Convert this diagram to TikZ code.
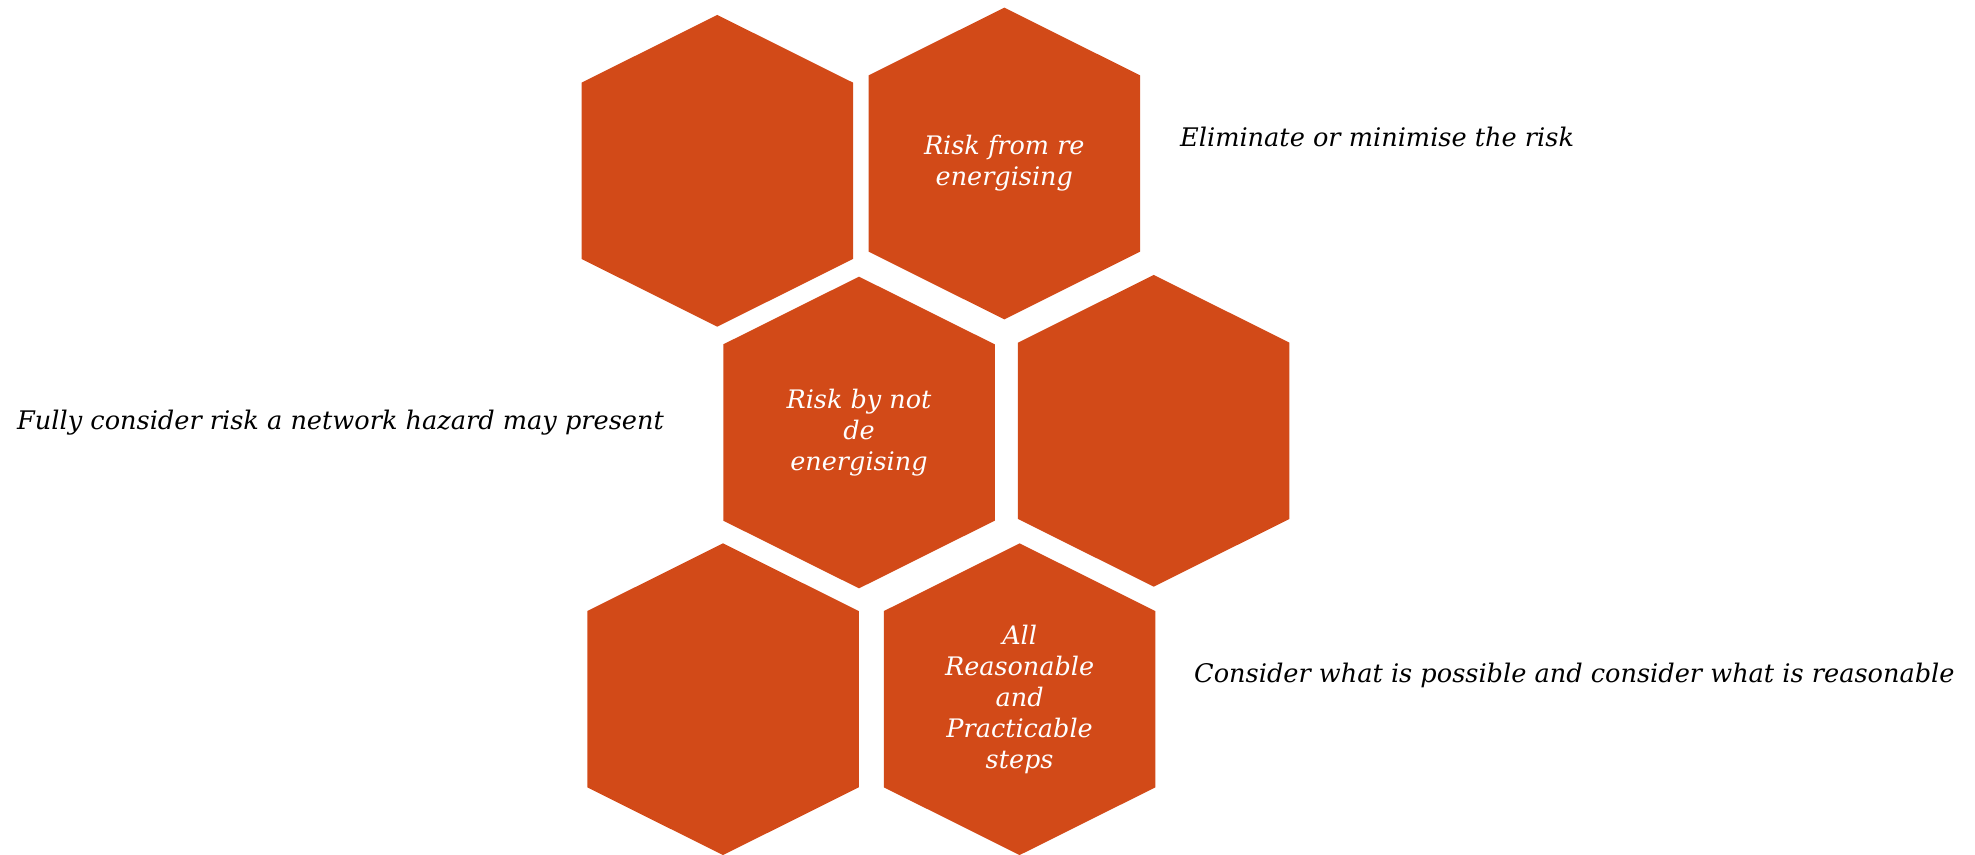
\documentclass[tikz,border=0pt]{standalone}
\usepackage{fontspec}
\setmainfont{DejaVu Serif}
\definecolor{hexcol}{RGB}{210,74,24}
\tikzset{
  hex/.pic={\fill[hexcol] (0,-155.85) -- (135.75,-88.15) -- (135.75,88.15) -- (0,155.85) -- (-135.75,88.15) -- (-135.75,-88.15) -- cycle;},
  hextext/.style={text=white, align=center, font=\fontsize{25.5}{31}\selectfont\itshape, inner sep=0pt},
  sidetext/.style={text=black, font=\fontsize{25.6}{31}\selectfont\itshape, inner sep=0pt}
}
\begin{document}
\begin{tikzpicture}[x=1pt,y=-1pt]
\useasboundingbox (0,0) rectangle (1975,854);
\coordinate (h1) at (717.3,170.8);
\coordinate (h2) at (1004.3,163.5);
\coordinate (h3) at (859,432.5);
\coordinate (h4) at (1153.7,430.8);
\coordinate (h5) at (723,699.2);
\coordinate (h6) at (1019.6,699.2);
\foreach \h in {h1,h2,h3,h4,h5,h6} {\pic at (\h) {hex};}
\node[hextext] (t2) at (h2) {Risk from re\\energising};
\node[hextext] (t3) at (h3) {Risk by not\\de\\energising};
\node[hextext] (t6) at (h6) {All\\Reasonable\\and\\Practicable\\steps};
\node[sidetext, anchor=base west] (s1) at (1180,146.7) {Eliminate or minimise the risk};
\node[sidetext, anchor=base west] (s2) at (17,429.3) {Fully consider risk a network hazard may present};
\node[sidetext, anchor=base west] (s3) at (1194,682.7) {Consider what is possible and consider what is reasonable};
\end{tikzpicture}
\end{document}
